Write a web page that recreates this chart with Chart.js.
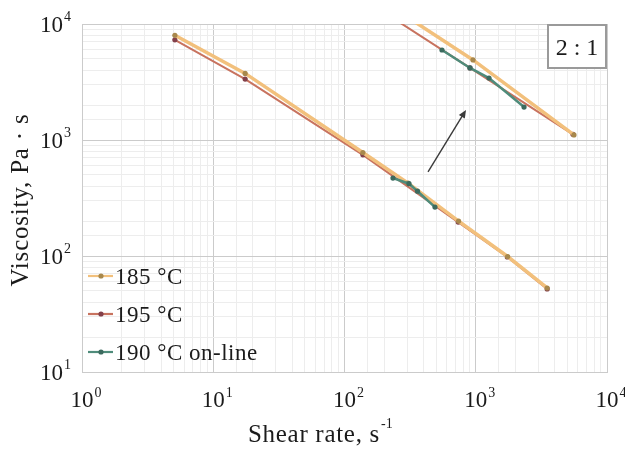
<!DOCTYPE html>
<html>
<head>
<meta charset="utf-8">
<title>Viscosity vs shear rate</title>
<script src="https://cdn.jsdelivr.net/npm/chart.js@4.4.1/dist/chart.umd.min.js"></script>
<style>
  html, body { margin: 0; padding: 0; background: #ffffff; }
  #wrap { width: 625px; height: 450px; position: relative; }
</style>
</head>
<body>
<div id="wrap"><canvas id="viscChart"></canvas></div>
<script>
"use strict";

/* ---------- data ---------- */

// 185 °C, lower branch and upper (shifted) branch
const shear185 = [5.1, 17.5, 138, 305, 740, 1750, 3500];
const visc185 = [8000, 3750, 780, 425, 200, 99, 53];
const shear185Up = [186, 953, 5600];
const visc185Up = [16400, 4900, 1105];

// 195 °C
const shear195 = [5.1, 17.5, 138, 735, 1740, 3500];
const visc195 = [7300, 3350, 745, 196, 98, 52];
const shear195Up = [186, 904, 5500];
const visc195Up = [13300, 4180, 1120];

// 190 °C on-line
const shear190 = [234, 310, 360, 489];
const visc190 = [470, 420, 362, 264];
const shear190Up = [553, 904, 1262, 2333];
const visc190Up = [5970, 4180, 3420, 1924];

const seriesNames = ["185 °C", "195 °C", "190 °C on-line"];
const axisExponents = [0, 1, 2, 3, 4];
const yExponents = [1, 2, 3, 4];

// arrow between the two branches (data units)
const arrowFrom = { x: 433, y: 530 };
const arrowTo = { x: 843, y: 1815 };

const ratioLabel = "2 : 1";

/* ---------- styling ---------- */

const FONT = "'Liberation Serif', 'DejaVu Serif', serif";
const TEXT = "#1b1b1b";
const COLORS = {
  c185: { line: "#F2C07C", point: "#A8884C" },
  c195: { line: "#C8735F", point: "#83404A" },
  c190: { line: "#4F8C7B", point: "#3C6A5E" }
};

function toPoints(xs, ys) {
  return xs.map((x, i) => ({ x: x, y: ys[i] }));
}

function makeSet(label, xs, ys, col, width, order) {
  return {
    label: label,
    data: toPoints(xs, ys),
    borderColor: col.line,
    backgroundColor: col.point,
    pointBackgroundColor: col.point,
    pointBorderColor: col.point,
    pointRadius: 2.6,
    pointBorderWidth: 0,
    borderWidth: width,
    tension: 0,
    clip: 0,
    order: order
  };
}

const datasets = [
  makeSet(seriesNames[0], shear185, visc185, COLORS.c185, 3.5, 1),
  makeSet(seriesNames[0], shear185Up, visc185Up, COLORS.c185, 3.5, 1),
  makeSet(seriesNames[2], shear190, visc190, COLORS.c190, 2.5, 0),
  makeSet(seriesNames[2], shear190Up, visc190Up, COLORS.c190, 2.5, 2),
  makeSet(seriesNames[1], shear195, visc195, COLORS.c195, 2, 3),
  makeSet(seriesNames[1], shear195Up, visc195Up, COLORS.c195, 2, 3)
];

/* ---------- grid colours: decades darker than minors ---------- */

function isDecade(v) {
  const l = Math.log10(v);
  return Math.abs(l - Math.round(l)) < 1e-6;
}

function gridColor(ctx) {
  if (!ctx.tick) return "#d6d6d6";
  return isDecade(ctx.tick.value) ? "#cbcbcb" : "#ededed";
}

/* ---------- custom drawing: labels with superscripts, legend, box, arrow ---------- */

const decor = {
  id: "decor",
  afterDraw(chart) {
    const c = chart.ctx;
    const xs = chart.scales.x;
    const ys = chart.scales.y;
    const area = chart.chartArea;
    c.save();
    c.fillStyle = TEXT;
    c.textBaseline = "alphabetic";

    // x tick labels
    axisExponents.forEach(e => {
      const px = xs.getPixelForValue(Math.pow(10, e));
      c.font = "23px " + FONT;
      c.textAlign = "center";
      const w = c.measureText("10").width;
      c.fillText("10", px, area.bottom + 35);
      c.font = "14px " + FONT;
      c.textAlign = "left";
      c.fillText(String(e), px + w / 2 + 1, area.bottom + 25);
    });

    // y tick labels
    yExponents.forEach(e => {
      const py = ys.getPixelForValue(Math.pow(10, e));
      c.font = "23px " + FONT;
      c.textAlign = "right";
      c.fillText("10", area.left - 19, py + 8);
      c.font = "14px " + FONT;
      c.textAlign = "left";
      c.fillText(String(e), area.left - 18, py - 3);
    });

    // x axis title
    c.font = "25px " + FONT;
    c.letterSpacing = "0.7px";
    c.textAlign = "left";
    const xt = "Shear rate, s";
    const xtW = c.measureText(xt).width;
    const xtX = 248;
    c.fillText(xt, xtX, 442);
    c.letterSpacing = "0px";
    c.font = "14px " + FONT;
    c.fillText("-1", xtX + xtW + 1, 428);

    // y axis title
    c.save();
    c.translate(28, 200);
    c.rotate(-Math.PI / 2);
    c.font = "25px " + FONT;
    c.letterSpacing = "0.8px";
    c.textAlign = "center";
    c.fillText("Viscosity, Pa \u00b7 s", 0, 0);
    c.restore();
    c.letterSpacing = "0px";

    // legend inside the plot, bottom left
    const legendRows = [
      { name: seriesNames[0], col: COLORS.c185, y: 276 },
      { name: seriesNames[1], col: COLORS.c195, y: 314 },
      { name: seriesNames[2], col: COLORS.c190, y: 352 }
    ];
    legendRows.forEach(r => {
      c.strokeStyle = r.col.line;
      c.lineWidth = 2.2;
      c.beginPath();
      c.moveTo(88, r.y);
      c.lineTo(113, r.y);
      c.stroke();
      c.fillStyle = r.col.point;
      c.beginPath();
      c.arc(101, r.y, 2.6, 0, Math.PI * 2);
      c.fill();
      c.fillStyle = TEXT;
      c.font = "23px " + FONT;
      c.letterSpacing = "0.5px";
      c.textAlign = "left";
      c.fillText(r.name, 115, r.y + 8);
      c.letterSpacing = "0px";
    });

    // "2 : 1" box, top right
    const bx = area.right - 59, by = area.top + 1, bw = 58, bh = 43;
    c.fillStyle = "#ffffff";
    c.fillRect(bx, by, bw, bh);
    c.strokeStyle = "#9a9a9a";
    c.lineWidth = 2;
    c.strokeRect(bx, by, bw, bh);
    c.fillStyle = TEXT;
    c.font = "24px " + FONT;
    c.textAlign = "center";
    c.fillText(ratioLabel, bx + bw / 2, by + bh / 2 + 8);

    // arrow
    const ax0 = xs.getPixelForValue(arrowFrom.x), ay0 = ys.getPixelForValue(arrowFrom.y);
    const ax1 = xs.getPixelForValue(arrowTo.x), ay1 = ys.getPixelForValue(arrowTo.y);
    const ang = Math.atan2(ay1 - ay0, ax1 - ax0);
    c.strokeStyle = "#3a3a3a";
    c.fillStyle = "#3a3a3a";
    c.lineWidth = 1.4;
    c.beginPath();
    c.moveTo(ax0, ay0);
    c.lineTo(ax1 - 5 * Math.cos(ang), ay1 - 5 * Math.sin(ang));
    c.stroke();
    c.beginPath();
    c.moveTo(ax1, ay1);
    c.lineTo(ax1 - 8 * Math.cos(ang) + 3.5 * Math.sin(ang), ay1 - 8 * Math.sin(ang) - 3.5 * Math.cos(ang));
    c.lineTo(ax1 - 8 * Math.cos(ang) - 3.5 * Math.sin(ang), ay1 - 8 * Math.sin(ang) + 3.5 * Math.cos(ang));
    c.closePath();
    c.fill();

    c.restore();
  }
};

/* ---------- chart ---------- */

new Chart(document.getElementById("viscChart"), {
  type: "line",
  data: { datasets: datasets },
  options: {
    responsive: true,
    maintainAspectRatio: false,
    animation: false,
    layout: { padding: { left: 82, right: 18, top: 24, bottom: 78 } },
    plugins: {
      legend: { display: false },
      tooltip: { enabled: false }
    },
    scales: {
      x: {
        type: "logarithmic",
        min: 1,
        max: 10000,
        ticks: { display: false },
        grid: { color: gridColor, lineWidth: 1, drawTicks: false },
        border: { color: "#cbcbcb" }
      },
      y: {
        type: "logarithmic",
        min: 10,
        max: 10000,
        ticks: { display: false },
        grid: { color: gridColor, lineWidth: 1, drawTicks: false },
        border: { color: "#cbcbcb" }
      }
    }
  },
  plugins: [decor]
});
</script>
</body>
</html>
